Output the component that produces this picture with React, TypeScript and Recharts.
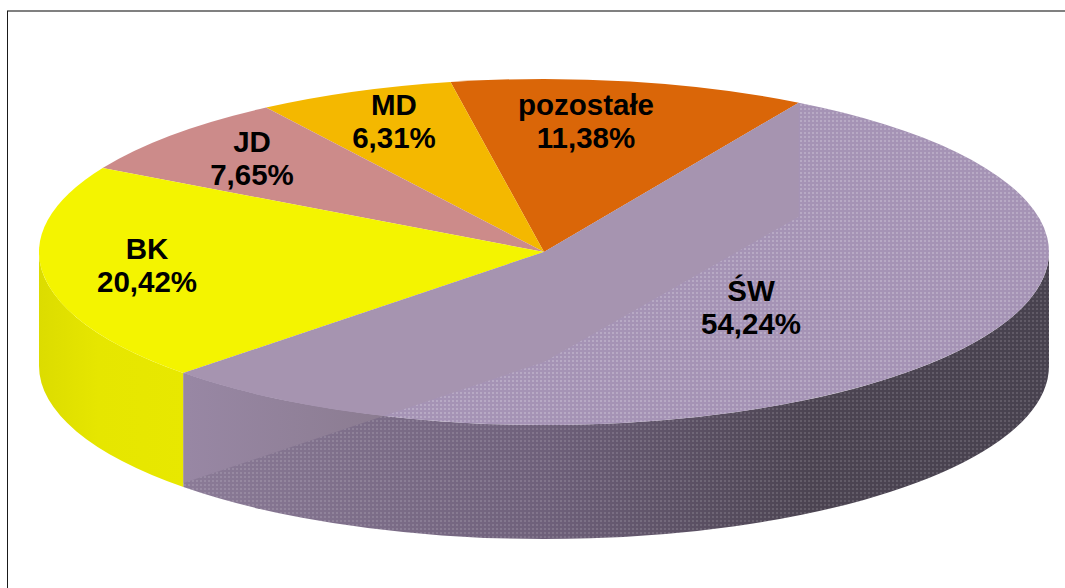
import { PieChart, Pie } from 'recharts';

const categories = ['pozostałe', 'MD', 'JD', 'BK', 'ŚW'];
const shares = [11.38, 6.31, 7.65, 20.42, 54.24];
const topColors = ['#da6608', '#f4b800', '#cc8b8a', '#f4f400', '#a593b5'];
const sideColors = ['#b05206', '#c49400', '#a47070', 'url(#sideBk)', 'url(#sideSw)'];

// x of the label centre and baseline of its first line
const labelSpots = [
  [586, 115],
  [394, 115],
  [252, 152],
  [147, 259],
  [751, 301],
];

const CX = 544;
const CY = 252;
const RX = 505;
const SQUASH = 173 / 505;
const DEPTH = 114;
const BACK_DEPTH = 110;
const START = 59.7;

const data = categories.map((name, i) => ({ name, value: shares[i] }));

function onEllipse(cx: number, cy: number, rx: number, deg: number) {
  const t = (deg * Math.PI) / 180;
  return { x: cx + rx * Math.cos(t), y: cy - rx * SQUASH * Math.sin(t) };
}

function topPath(cx: number, cy: number, rx: number, a: number, b: number) {
  const p = onEllipse(cx, cy, rx, a);
  const q = onEllipse(cx, cy, rx, b);
  const large = b - a > 180 ? 1 : 0;
  return `M${cx},${cy}L${p.x},${p.y}A${rx},${rx * SQUASH} 0 ${large} 0 ${q.x},${q.y}Z`;
}

// only the part of the rim between 180 and 360 degrees faces the viewer
function rimPath(cx: number, cy: number, rx: number, a: number, b: number) {
  const from = Math.max(a, 180);
  const to = Math.min(b, 360);
  if (to <= from) return null;
  const p = onEllipse(cx, cy, rx, from);
  const q = onEllipse(cx, cy, rx, to);
  const ry = rx * SQUASH;
  return `M${p.x},${p.y}A${rx},${ry} 0 0 0 ${q.x},${q.y}L${q.x},${q.y + DEPTH}A${rx},${ry} 0 0 1 ${p.x},${p.y + DEPTH}Z`;
}

function Slice(props: any) {
  const { cx, cy, outerRadius, startAngle, endAngle, index } = props;
  const a = Math.min(startAngle, endAngle);
  const b = Math.max(startAngle, endAngle);
  const top = topPath(cx, cy, outerRadius, a, b);
  const rim = rimPath(cx, cy, outerRadius, a, b);
  const isLast = index === categories.length - 1;

  if (!isLast) {
    return (
      <g>
        {rim && <path d={rim} fill={sideColors[index]} />}
        <path d={top} fill={topColors[index]} />
      </g>
    );
  }

  // the big slice is dithered, and its two inner walls show through on top of it
  const p = onEllipse(cx, cy, outerRadius, a);
  const q = onEllipse(cx, cy, outerRadius, b);
  const walls = `M${cx},${cy}L${q.x},${q.y}L${q.x},${q.y + DEPTH}L${cx},${cy + BACK_DEPTH}L${p.x},${p.y + BACK_DEPTH}L${p.x},${p.y}Z`;
  return (
    <g>
      <defs>
        <pattern id="dots" width={4} height={4} patternUnits="userSpaceOnUse">
          <rect x={0} y={0} width={2} height={2} fill="#ffffff" opacity={0.2} />
        </pattern>
        <pattern id="dotsDark" width={4} height={4} patternUnits="userSpaceOnUse">
          <rect x={0} y={0} width={2} height={2} fill="#ffffff" opacity={0.13} />
        </pattern>
        <clipPath id="wallClip">
          <path d={walls} />
        </clipPath>
      </defs>
      {rim && <path d={rim} fill={sideColors[index]} />}
      {rim && <path d={rim} fill="url(#dotsDark)" />}
      <path d={top} fill={topColors[index]} />
      <path d={top} fill="url(#dots)" />
      <g clipPath="url(#wallClip)">
        {rim && <path d={rim} fill="url(#wallSw)" />}
        <path d={top} fill="#a694b0" />
      </g>
    </g>
  );
}

function SliceLabel(props: any) {
  const { index } = props;
  const [x, y] = labelSpots[index];
  const pct = shares[index].toFixed(2).replace('.', ',') + '%';
  return (
    <text
      textAnchor="middle"
      fontFamily="'Liberation Sans', Arial, sans-serif"
      fontWeight="bold"
      fontSize={29.5}
      fill="#000000"
    >
      <tspan x={x} y={y}>{categories[index]}</tspan>
      <tspan x={x} y={y + 33}>{pct}</tspan>
    </text>
  );
}

export default function App() {
  return (
    <div style={{ position: 'fixed', left: 0, top: 0, width: 1065, height: 588, background: '#ffffff', overflow: 'hidden' }}>
      <div style={{ position: 'absolute', left: 7, top: 10, right: 0, height: 2, background: '#808080' }} />
      <div style={{ position: 'absolute', left: 7, top: 11, bottom: 0, width: 1, background: '#1a1a1a' }} />
      <PieChart width={1065} height={588} style={{ position: 'absolute', left: 0, top: 0 }} margin={{ top: 0, right: 0, bottom: 0, left: 0 }}>
        <defs>
          <linearGradient id="sideBk" gradientUnits="userSpaceOnUse" x1={39} y1={0} x2={187} y2={0}>
            <stop offset="0" stopColor="#dcdc00" />
            <stop offset="0.4" stopColor="#e6e600" />
            <stop offset="1" stopColor="#e8e800" />
          </linearGradient>
          <linearGradient id="sideSw" gradientUnits="userSpaceOnUse" x1={187} y1={0} x2={1049} y2={0}>
            <stop offset="0" stopColor="#8b7b97" />
            <stop offset="0.42" stopColor="#6e607a" />
            <stop offset="0.72" stopColor="#4c4452" />
            <stop offset="1" stopColor="#48424f" />
          </linearGradient>
          <linearGradient id="wallSw" gradientUnits="userSpaceOnUse" x1={187} y1={0} x2={400} y2={0}>
            <stop offset="0" stopColor="#9887a4" />
            <stop offset="1" stopColor="#8a7b8f" />
          </linearGradient>
        </defs>
        <Pie
          data={data}
          dataKey="value"
          nameKey="name"
          cx={CX}
          cy={CY}
          innerRadius={0}
          outerRadius={RX}
          startAngle={START}
          endAngle={START + 360}
          stroke="none"
          shape={Slice}
          label={SliceLabel}
          labelLine={false}
          isAnimationActive={false}
        />
      </PieChart>
    </div>
  );
}
